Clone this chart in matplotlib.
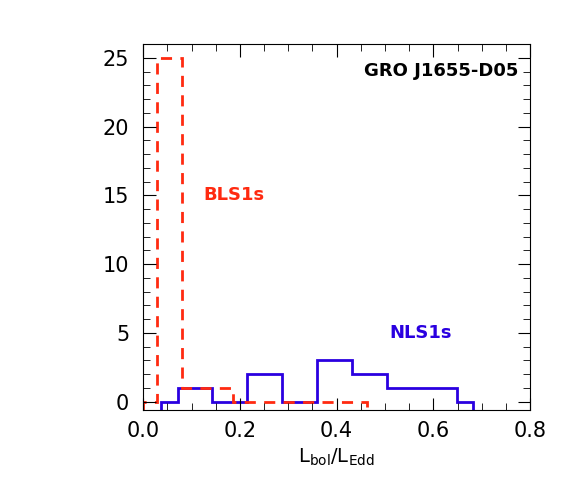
import matplotlib
matplotlib.use("Agg")
import matplotlib.pyplot as plt
from matplotlib.ticker import MultipleLocator

nls_edges = [0.036, 0.0715, 0.143, 0.2145, 0.288, 0.359, 0.432, 0.504, 0.576, 0.648, 0.682]
nls_counts = [0, 1, 0, 2, 0, 3, 2, 1, 1, 0]
bls_edges = [0.0, 0.029, 0.081, 0.133, 0.185, 0.237, 0.289, 0.341, 0.393, 0.462]
bls_counts = [0, 25, 1, 1, 0, 0, 0, 0, 0]

fig = plt.figure(figsize=(5.73, 5.01), dpi=100)
ax = fig.add_axes([0.25, 0.182, 0.675, 0.73])
ax.stairs(nls_counts, nls_edges, color="#2a00e0", lw=2, baseline=-0.6)
ax.stairs(bls_counts, bls_edges, color="#ff2a10", lw=2, ls=(0, (4, 3)), baseline=-0.6)
ax.set_xlim(0, 0.8)
ax.set_ylim(-0.6, 26)
ax.set_xticks([0, 0.2, 0.4, 0.6, 0.8])
ax.set_xticklabels(["0.0", "0.2", "0.4", "0.6", "0.8"])
ax.set_yticks([0, 5, 10, 15, 20, 25])
ax.xaxis.set_minor_locator(MultipleLocator(0.05))
ax.yaxis.set_minor_locator(MultipleLocator(1))
ax.tick_params(which="both", direction="in", top=True, right=True, labelsize=15)
ax.tick_params(which="major", length=9)
ax.tick_params(which="minor", length=5)
ax.tick_params(axis="x", pad=8)
ax.tick_params(axis="y", pad=10)
ax.set_xlabel(r"L$_{\rm bol}$/L$_{\rm Edd}$", fontsize=14)
ax.text(0.97, 0.95, "GRO J1655-D05", transform=ax.transAxes, ha="right", va="top", fontsize=13, fontweight="bold")
ax.text(0.125, 15, "BLS1s", color="#ff2a10", fontsize=13, fontweight="bold", va="center")
ax.text(0.51, 5.0, "NLS1s", color="#2a00e0", fontsize=13, fontweight="bold", va="center")
fig.savefig("out.png", dpi=100)
